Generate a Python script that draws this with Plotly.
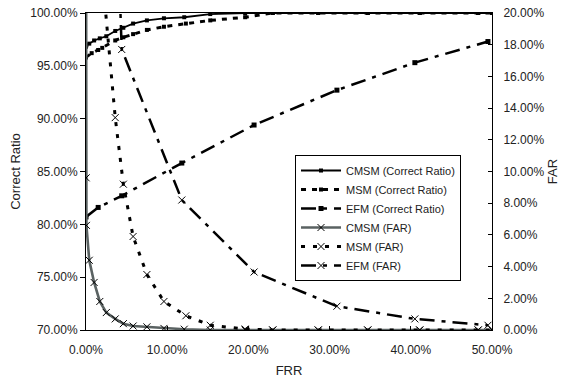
import plotly.graph_objects as go

# ---- data (FRR in %, Correct Ratio in %, FAR in %) ----
cmsm_frr = [0.0, 0.02, 0.05, 0.4, 1.0, 1.7, 2.5, 3.6, 4.6, 5.8, 7.5, 9.6, 12.1, 15.3, 19.6, 23.0, 28.6, 34.7, 41.1, 48.3, 50.0]
cmsm_cr = [96.8, 96.9, 97.0, 97.1, 97.4, 97.6, 97.8, 98.3, 98.6, 99.0, 99.3, 99.5, 99.6, 99.9, 100, 100, 100, 100, 100, 100, 100]
cmsm_far = [30.0, 9.6, 6.6, 4.4, 3.0, 1.8, 1.1, 0.7, 0.4, 0.25, 0.2, 0.1, 0.05, 0, 0, 0, 0, 0, 0, 0, 0]

msm_frr = [0.0, 0.7, 1.5, 2.0, 3.6, 4.6, 5.8, 7.5, 9.6, 12.3, 15.3, 19.6, 23.0, 28.6, 34.7, 41.1, 48.3, 50.0]
msm_cr = [95.8, 96.2, 96.5, 96.7, 97.4, 97.7, 98.0, 98.4, 98.7, 99.0, 99.3, 99.6, 100, 100, 100, 100, 100, 100]
msm_far = [60.0, 45.0, 30.0, 22.4, 13.4, 9.2, 5.9, 3.5, 1.8, 0.9, 0.3, 0.06, 0, 0, 0, 0, 0, 0]

efm_frr = [0.0, 1.5, 4.4, 11.8, 20.7, 30.9, 40.5, 49.5]
efm_cr = [80.7, 81.6, 82.7, 85.8, 89.4, 92.7, 95.3, 97.3]
efm_far = [90.0, 60.0, 17.7, 8.2, 3.66, 1.5, 0.7, 0.3]

x_ticks = [0, 10, 20, 30, 40, 50]
cr_ticks = [70, 75, 80, 85, 90, 95, 100]
far_ticks = [0, 2, 4, 6, 8, 10, 12, 14, 16, 18, 20]

fmt = lambda v: f"{v:.2f}%"

fig = go.Figure()


def add(name, x, y, yaxis, color, width, dash, symbol, msize, mlw=1):
    fig.add_trace(go.Scatter(
        x=x, y=y, name=name, yaxis=yaxis, mode="lines+markers",
        line=dict(color=color, width=width, dash=dash),
        marker=dict(symbol=symbol, size=msize, color="black",
                    line=dict(color="black", width=mlw)),
    ))


add("CMSM (Correct Ratio)", cmsm_frr, cmsm_cr, "y", "black", 1.8, "solid", "square", 4, 0)
add("MSM (Correct Ratio)", msm_frr, msm_cr, "y", "black", 3, "5px,6px", "square", 4, 0)
add("EFM (Correct Ratio)", efm_frr, efm_cr, "y", "black", 2.5, "15px,7px,4px,7px", "square", 5, 0)
add("CMSM (FAR)", cmsm_frr, cmsm_far, "y2", "#5a6262", 2.6, "solid", "x-thin", 7)
add("MSM (FAR)", msm_frr, msm_far, "y2", "black", 3, "4px,8px", "x-thin", 7)
add("EFM (FAR)", efm_frr, efm_far, "y2", "black", 2.5, "15px,7px,4px,7px", "x-thin", 7)

axis_common = dict(showgrid=False, zeroline=False, showline=True, linecolor="black",
                   linewidth=1, tickcolor="black", tickfont=dict(size=12, color="#222"))

fig.update_layout(
    width=566, height=381,
    margin=dict(l=86, r=74, t=13, b=51, autoexpand=False),
    paper_bgcolor="white", plot_bgcolor="white",
    font=dict(family="Liberation Sans, Arial, sans-serif", size=12, color="#222"),
    xaxis=dict(range=[0, 50], tickvals=x_ticks, ticktext=[fmt(v) for v in x_ticks],
               ticks="inside", ticklen=4, mirror=True, ticklabelstandoff=9,
               title=dict(text="FRR", font=dict(size=13), standoff=9), **axis_common),
    yaxis=dict(range=[70, 100], tickvals=cr_ticks, ticktext=[fmt(v) for v in cr_ticks],
               ticks="outside", ticklen=5,
               title=dict(text="Correct Ratio", font=dict(size=13), standoff=6), **axis_common),
    yaxis2=dict(range=[0, 20], overlaying="y", side="right", tickvals=far_ticks,
                ticktext=[fmt(v) for v in far_ticks], ticks="inside", ticklen=4,
                ticklabelstandoff=8,
                title=dict(text="FAR", font=dict(size=13), standoff=4), **axis_common),
    legend=dict(x=0.5148, y=0.552, xanchor="left", yanchor="top", bordercolor="black",
                borderwidth=1, bgcolor="white", font=dict(size=11, color="#222"),
                itemwidth=40, traceorder="normal"),
    showlegend=True,
)

fig.write_html("out.html", config={"displayModeBar": False},
               post_script="document.body.style.margin='0px';document.body.style.overflow='hidden';")
